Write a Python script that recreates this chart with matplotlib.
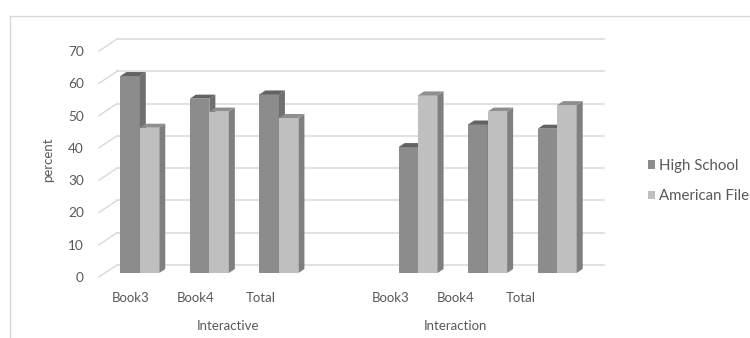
import numpy as np
import matplotlib.pyplot as plt
from matplotlib.patches import Polygon, Patch
from matplotlib.lines import Line2D

plt.rcParams['font.family'] = ['Lato', 'DejaVu Sans']

# data
categories = ['Book3', 'Book4', 'Total', '', 'Book3', 'Book4', 'Total']
groups = ['Interactive', 'Interaction']
group_members = [[0, 1, 2, 3], [4, 5, 6]]
high_school = [61, 54, 55.3, np.nan, 39, 46, 44.7]
american_file = [45, 50, 48, np.nan, 55, 50, 52]

series = [
    ('High School', high_school, '#8c8c8c', '#6f6f6f', '#636363'),
    ('American File', american_file, '#bfbfbf', '#7f7f7f', '#8f8f8f'),
]

txt = '#595959'
grid_c = '#d9d9d9'

fig = plt.figure(figsize=(7.5, 3.38), dpi=100)
ax = fig.add_axes([99 / 750, 61 / 338, 487 / 750, 226 / 338])
ax.set_xlim(-0.5, 6.5)
ax.set_ylim(0, 70)

# oblique depth of the chart box (data units)
dx, dy = 0.259, 3.72
bw = 0.28

# back wall grid and the little diagonal at each tick
for v in range(0, 71, 10):
    ax.plot([-0.5 + dx, 6.5 + dx], [v + dy, v + dy], color=grid_c, lw=1.1,
            clip_on=False, zorder=1)
    ax.plot([-0.5, -0.5 + dx], [v, v + dy], color=grid_c, lw=1.0,
            clip_on=False, zorder=1)

# 3d-looking bars: front face sits a third of the way into the box
fx, fy = dx / 3, dy / 3
z = 2
for i in range(len(categories)):
    for k, (name, vals, front, side, top) in enumerate(series):
        v = vals[i]
        if np.isnan(v):
            continue
        xl = i - bw + k * bw + fx
        xr = xl + bw
        ax.bar(xl, v, width=bw, bottom=fy, align='edge', color=front,
               edgecolor='none', zorder=z, clip_on=False)
        y1 = v + fy
        ax.add_patch(Polygon([(xr, fy), (xr + fx, fy + fy), (xr + fx, y1 + fy), (xr, y1)],
                             closed=True, fc=side, ec='none', zorder=z, clip_on=False))
        ax.add_patch(Polygon([(xl, y1), (xl + fx, y1 + fy), (xr + fx, y1 + fy), (xr, y1)],
                             closed=True, fc=top, ec='none', zorder=z, clip_on=False))
        z += 1

for s in ax.spines.values():
    s.set_visible(False)

ax.set_yticks(range(0, 71, 10))
ax.tick_params(axis='y', length=0, pad=11, labelsize=9.8, labelcolor=txt)

# category labels
lab_pos = [0.935 * i - 0.05 for i in range(len(categories))]
ax.set_xticks([p for p, c in zip(lab_pos, categories) if c],
              [c for c in categories if c])
ax.tick_params(axis='x', length=0, pad=11, labelsize=9.5, labelcolor=txt)

for g, members in zip(groups, group_members):
    gx = np.mean([lab_pos[m] for m in members])
    ax.annotate(g, (gx, 0), xycoords=('data', 'axes fraction'),
                xytext=(0, -49), textcoords='offset pixels',
                ha='center', va='center', fontsize=9.5, color=txt)

ax.set_ylabel('percent', fontsize=9.5, color=txt)
ax.yaxis.set_label_coords(-0.092, 0.518)

handles = [Patch(fc=s[2], ec='none') for s in series]
fig.legend(handles, [s[0] for s in series], loc='center left',
           bbox_to_anchor=(634 / 750, 1 - 181 / 338), frameon=False,
           fontsize=10.8, labelcolor=txt, handlelength=0.5, handleheight=0.5,
           handletextpad=0.25, labelspacing=1.1)

# chart area border
fig.add_artist(Line2D([10 / 750, 10 / 750], [0, 1 - 16 / 338], color=grid_c, lw=1))
fig.add_artist(Line2D([10 / 750, 1], [1 - 16 / 338, 1 - 16 / 338], color=grid_c, lw=1))

fig.savefig('out.png', dpi=100)
